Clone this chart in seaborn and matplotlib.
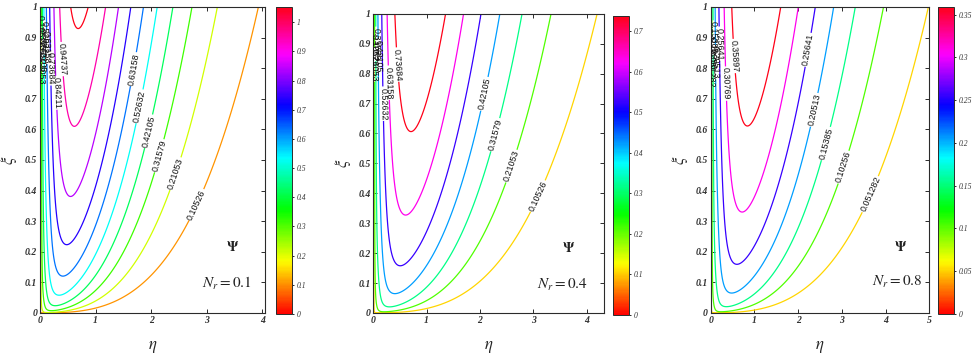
import numpy as np
import matplotlib
matplotlib.use("Agg")
import matplotlib.pyplot as plt
import seaborn as sns
from matplotlib.colors import Normalize
from matplotlib.cm import ScalarMappable

# ---- data -------------------------------------------------------------
nr_values = [0.1, 0.4, 0.8]
nr_labels = ["0.1", "0.4", "0.8"]

# contour levels of the stream function for each N_r
levels_nr01 = [0.10526, 0.21053, 0.31579, 0.42105, 0.52632,
               0.63158, 0.73684, 0.84211, 0.94737, 1.0526]
levels_nr04 = [0.10526, 0.21053, 0.31579, 0.42105, 0.52632,
               0.63158, 0.73684]
levels_nr08 = [0.051282, 0.10256, 0.15385, 0.20513, 0.25641,
               0.30769, 0.35897]

# peak strength of psi (psi_max = amp * xi^(1/4)) and peak location width
peak_amp = [1.072, 0.835, 0.406]
peak_width = [0.70, 0.80, 0.95]
eta_max = [4.05, 4.33, 5.0]

x_ticks = [[0, 1, 2, 3, 4], [0, 1, 2, 3, 4], [0, 1, 2, 3, 4, 5]]
y_ticks = [0, 0.1, 0.2, 0.3, 0.4, 0.5, 0.6, 0.7, 0.8, 0.9, 1]
y_tick_labels = ["0", "0.1", "0.2", "0.3", "0.4", "0.5", "0.6", "0.7", "0.8", "0.9", "1"]

cbar_ticks = [
    [0, 0.1, 0.2, 0.3, 0.4, 0.5, 0.6, 0.7, 0.8, 0.9, 1.0],
    [0, 0.1, 0.2, 0.3, 0.4, 0.5, 0.6, 0.7],
    [0, 0.05, 0.1, 0.15, 0.2, 0.25, 0.3, 0.35],
]
cbar_tick_labels = [
    ["0", "0.1", "0.2", "0.3", "0.4", "0.5", "0.6", "0.7", "0.8", "0.9", "1"],
    ["0", "0.1", "0.2", "0.3", "0.4", "0.5", "0.6", "0.7"],
    ["0", "0.05", "0.1", "0.15", "0.2", "0.25", "0.3", "0.35"],
]

# where the inline labels sit: (level index, eta, xi)
label_spots = [
    [(0, 2.86, 0.35), (1, 2.35, 0.46), (2, 2.02, 0.52), (3, 1.82, 0.60),
     (4, 1.67, 0.68), (5, 1.58, 0.80), (8, 0.40, 0.83), (7, 0.28, 0.72),
     (6, 0.20, 0.80), (5, 0.15, 0.87), (4, 0.10, 0.90), (3, 0.07, 0.84),
     (2, 0.05, 0.88), (1, 0.03, 0.80), (0, 0.02, 0.92)],
    [(0, 3.03, 0.395), (1, 2.44, 0.50), (2, 2.06, 0.607), (3, 1.875, 0.74),
     (6, 0.42, 0.83), (5, 0.34, 0.77), (4, 0.25, 0.70), (3, 0.15, 0.86),
     (2, 0.10, 0.90), (1, 0.06, 0.83), (0, 0.03, 0.88)],
    [(0, 3.46, 0.40), (1, 2.96, 0.48), (2, 2.62, 0.555), (3, 2.35, 0.665),
     (4, 2.20, 0.86), (6, 0.60, 0.84), (5, 0.40, 0.75), (4, 0.28, 0.88),
     (3, 0.20, 0.82), (2, 0.12, 0.90), (1, 0.07, 0.85), (0, 0.03, 0.80)],
]

all_levels = [levels_nr01, levels_nr04, levels_nr08]

# ---- layout (figure fractions) -----------------------------------------
axes_rects = [
    [0.0411, 0.1306, 0.2312, 0.850],
    [0.3837, 0.1306, 0.2374, 0.831],
    [0.7304, 0.1306, 0.2247, 0.850],
]
cbar_rects = [
    [0.2837, 0.128, 0.0160, 0.853],
    [0.6300, 0.125, 0.0164, 0.830],
    [0.9640, 0.128, 0.0164, 0.853],
]
psi_pos = [(0.858, 0.216), (0.843, 0.218), (0.869, 0.217)]
nr_pos = [(0.83, 0.098), (0.817, 0.095), (0.852, 0.102)]


def stream_function(eta, xi, amp, width, c0=0.18, delta=0.03):
    """Boundary-layer stream function: thin wall layer times an outer
    profile peaking at eta = width * xi^(1/4)."""
    scale = xi ** 0.25
    s = eta / (width * scale)
    mu = 1.0 / (1.0 + c0)
    outer = (c0 + s) * np.exp(-mu * (s - 1.0)) / (1.0 + c0)
    inner = 1.0 - np.exp(-s / delta)
    return amp * scale * inner * outer


def snap_to_level(ax, cs, idx, x, y):
    """Closest vertex of contour level `idx` to (x, y), measured on screen."""
    segs = [s for s in cs.allsegs[idx] if len(s)]
    pts = np.vstack(segs)
    disp = ax.transData.transform(pts)
    target = ax.transData.transform([(x, y)])[0]
    k = np.argmin(np.sum((disp - target) ** 2, axis=1))
    return tuple(pts[k])


sns.set_theme(style="white")
plt.rcParams.update({
    "font.family": ["Liberation Serif", "DejaVu Serif"],
    "mathtext.fontset": "stix",
    "axes.edgecolor": "#2b2b2b",
    "axes.linewidth": 0.8,
    "xtick.direction": "in",
    "ytick.direction": "in",
    "xtick.top": True,
    "ytick.right": True,
    "xtick.bottom": True,
    "ytick.left": True,
    "xtick.major.size": 3,
    "ytick.major.size": 3,
    "xtick.major.width": 0.7,
    "ytick.major.width": 0.7,
    "xtick.color": "#2b2b2b",
    "ytick.color": "#2b2b2b",
})

cmap = sns.color_palette("hsv", as_cmap=True)

fig = plt.figure(figsize=(9.73, 3.60), dpi=100)

for i in range(3):
    levels = all_levels[i]
    vmax = levels[-1]
    ax = fig.add_axes(axes_rects[i])

    eta = eta_max[i] * np.linspace(0.0, 1.0, 1400) ** 2
    xi = np.linspace(1e-5, 1.0, 700)
    E, X = np.meshgrid(eta, xi)
    psi = stream_function(E, X, peak_amp[i], peak_width[i])

    cs = ax.contour(E, X, psi, levels=levels, cmap=cmap,
                    vmin=0, vmax=vmax, linewidths=0.9)

    ax.set_xlim(0, eta_max[i])
    ax.set_ylim(0, 1)

    spots = [snap_to_level(ax, cs, idx, ex, yx) for idx, ex, yx in label_spots[i]]
    with plt.rc_context({"font.family": ["Liberation Sans"]}):
        cs.clabel(manual=spots, inline=True, inline_spacing=1, fmt="%.5g",
                  fontsize=6.4, colors="#111111")

    ax.set_xticks(x_ticks[i])
    ax.set_xticklabels([str(t) for t in x_ticks[i]])
    ax.set_yticks(y_ticks)
    ax.set_yticklabels(y_tick_labels)
    ax.tick_params(labelsize=7, pad=2)
    for lbl in ax.get_xticklabels() + ax.get_yticklabels():
        lbl.set_fontstyle("italic")
        lbl.set_fontweight("bold")
        lbl.set_color("#333333")

    ax.set_xlabel(r"$\eta$", fontsize=12, labelpad=10)
    ax.set_ylabel(r"$\xi$", fontsize=12, labelpad=4)

    ax.text(*psi_pos[i], r"$\mathbf{\Psi}$", transform=ax.transAxes,
            ha="center", va="center", fontsize=10, color="#222222")
    ax.text(*nr_pos[i], r"$\mathit{N_r=" + nr_labels[i] + "}$",
            transform=ax.transAxes, ha="center", va="center",
            fontsize=11, color="#222222")

    cax = fig.add_axes(cbar_rects[i])
    sm = ScalarMappable(norm=Normalize(0, vmax), cmap=cmap)
    cb = fig.colorbar(sm, cax=cax)
    cb.set_ticks(cbar_ticks[i])
    cb.set_ticklabels(cbar_tick_labels[i])
    cb.outline.set_linewidth(0.7)
    cb.outline.set_edgecolor("#2b2b2b")
    cax.tick_params(labelsize=5.5, length=1.5, pad=2, direction="out",
                    left=False, right=True)
    for lbl in cax.get_yticklabels():
        lbl.set_fontstyle("italic")
        lbl.set_color("#333333")

fig.savefig("out.png", dpi=100)
